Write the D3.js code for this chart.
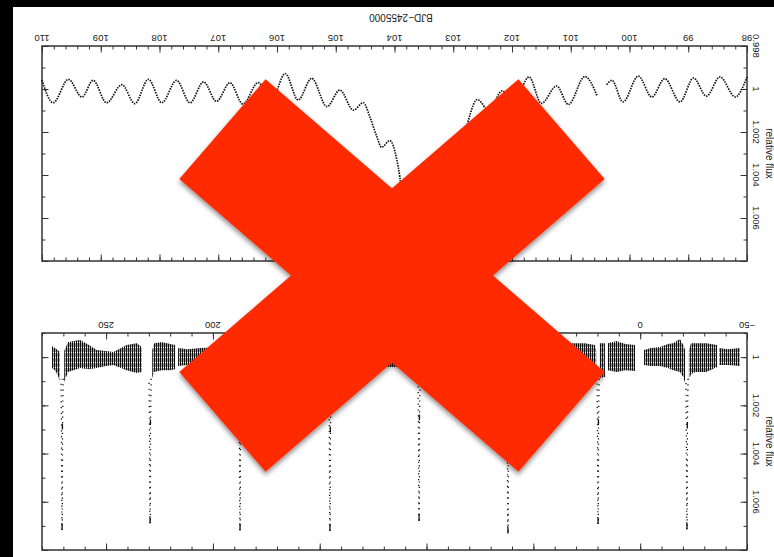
<!DOCTYPE html>
<html>
<head>
<meta charset="utf-8">
<script src="https://cdn.jsdelivr.net/npm/d3@7"></script>
<style>
  html, body { margin: 0; padding: 0; background: #000; }
  svg { display: block; }
  text { font-family: "Liberation Sans", Arial, Helvetica, sans-serif; fill: #222; }
</style>
</head>
<body>
<svg id="chart" width="774" height="557"></svg>
<script>
// ---------------- data ----------------
// Upper panel: short stretch around one transit (BJD-2455000, relative flux)
const topDay = [110.00,109.81,109.55,109.32,109.13,108.90,108.64,108.42,108.19,107.96,107.71,107.48,
  107.25,107.03,106.80,106.58,106.32,106.10,105.86,105.64,105.41,105.15,104.93,104.70,104.53,104.42,
  104.30,104.22,104.08,103.96,103.91,103.84,103.74,103.40,103.02,102.92,102.85,102.74,102.59,102.39,
  102.17,101.97,101.71,101.50,101.24,101.04,100.76,100.55,null,100.39,100.30,100.11,99.85,99.62,
  99.40,99.14,98.91,98.69,98.46,98.20,98.00];
const topFlux = [0.99958,1.00064,0.99955,1.00037,0.99960,1.00064,0.99980,1.00068,0.99955,1.00064,
  0.99960,1.00064,0.99967,1.00057,0.99971,1.00070,0.99970,1.00056,0.99928,1.00051,0.99950,1.00082,
  1.00005,1.00098,1.00064,1.00129,1.00222,1.00271,1.00240,1.00330,1.00408,1.00590,1.00730,1.00750,
  1.00700,1.00330,1.00280,1.00144,1.00049,1.00102,1.00009,1.00063,0.99944,1.00067,0.99986,1.00072,
  0.99942,1.00033,null,0.99980,0.99960,1.00060,0.99940,1.00037,0.99952,1.00060,0.99949,1.00033,
  0.99944,1.00037,0.99944];

// Lower panel: full light curve, envelope of the out-of-transit scatter
const bandDay = [275.3,274.0,272.6,271.6,null,
  269.6,267.8,262.2,258.0,254.4,250.0,246.6,243.0,240.4,235.7,233.3,null,
  228.4,227.5,224.0,220.0,217.7,null,
  216.3,212.0,206.0,196.0,188.2,null,186.4,178.0,166.0,154.0,146.1,null,
  144.3,136.0,124.0,114.0,104.4,null,102.6,94.0,82.0,72.0,62.8,null,
  61.0,52.0,42.0,31.5,26.0,21.2,20.6,null,
  18.9,16.5,null,
  15.1,11.0,7.0,2.4,null,
  -1.8,-5.0,-9.3,-13.0,-15.4,-18.6,-20.2,-21.0,null,
  -22.8,-23.8,-26.0,-31.0,-36.0,null,
  -36.9,-41.0,-46.7];
const bandLow = [0.99954,0.99962,0.99971,0.99979,null,
  0.99975,0.99937,0.99929,0.99950,0.99971,0.99975,0.99979,0.99962,0.99950,0.99942,0.99958,null,
  0.99971,0.99942,0.99937,0.99946,0.99950,null,
  0.99962,0.99967,0.99962,0.99958,0.99967,null,0.99967,0.99950,0.99958,0.99954,0.99971,null,
  0.99971,0.99954,0.99962,0.99958,0.99971,null,0.99971,0.99950,0.99958,0.99954,0.99971,null,
  0.99971,0.99950,0.99958,0.99942,0.99942,0.99950,0.99971,null,
  0.99942,0.99942,null,
  0.99942,0.99933,0.99946,0.99950,null,
  0.99971,0.99962,0.99958,0.99946,0.99942,0.99925,0.99950,0.99971,null,
  0.99971,0.99942,0.99942,0.99942,0.99950,null,
  0.99962,0.99967,0.99962];
const bandHigh = [1.00045,1.00054,1.00074,1.00103,null,
  1.00103,1.00062,1.00045,1.00050,1.00045,1.00037,1.00033,1.00045,1.00054,1.00066,1.00062,null,
  1.00087,1.00062,1.00054,1.00054,1.00050,null,
  1.00037,1.00033,1.00041,1.00045,1.00087,null,1.00087,1.00050,1.00045,1.00050,1.00087,null,
  1.00087,1.00050,1.00041,1.00041,1.00087,null,1.00087,1.00054,1.00045,1.00050,1.00087,null,
  1.00087,1.00050,1.00045,1.00041,1.00041,1.00062,1.00095,null,
  1.00087,1.00083,null,
  1.00054,1.00062,1.00054,1.00058,null,
  1.00033,1.00037,1.00037,1.00045,1.00054,1.00062,1.00083,1.00107,null,
  1.00095,1.00070,1.00062,1.00062,1.00041,null,
  1.00033,1.00033,1.00037];

// Transits in the lower panel
const transitDay      = [270.6, 229.4, 187.3, 145.2, 103.5, 61.9, 19.7, -21.9];
const transitDepth    = [1.00717, 1.00689, 1.00718, 1.00720, 1.00679, 1.00731, 1.00692, 1.00714];
const transitShoulder = [1.00288, 1.00270, 1.00280, 1.00300, 1.00250, 1.00280, 1.00270, 1.00282];

// Axis ticks and labels
const topDayLabels   = d3.range(98, 111, 1);
const topFluxLabels  = [0.998, 1, 1.002, 1.004, 1.006];
const botDayLabels   = [-50, 0, 50, 100, 150, 200, 250];
const botFluxLabels  = [1, 1.002, 1.004, 1.006];
const xTitle = "BJD\u22122455000";
const yTitle = "relative flux";

// ---------------- layout ----------------
const W = 774, H = 557;
const svg = d3.select("#chart");
svg.append("rect").attr("width", W).attr("height", H).attr("fill", "#000");
svg.append("rect").attr("x", 13).attr("y", 7).attr("width", W - 13).attr("height", H - 7).attr("fill", "#fff");

const defs = svg.append("defs");
// dense vertical hatching for the unresolved short-period modulation
const hatch = defs.append("pattern").attr("id", "hatch")
  .attr("patternUnits", "userSpaceOnUse").attr("width", 2).attr("height", 5);
hatch.append("rect").attr("width", 2).attr("height", 5).attr("fill", "#9a9a9a");
hatch.append("rect").attr("x", 0).attr("width", 1).attr("height", 5).attr("fill", "#111");
hatch.append("rect").attr("x", 1).attr("y", 2).attr("width", 1).attr("height", 1).attr("fill", "#fff");
const shadow = defs.append("filter").attr("id", "shadow")
  .attr("x", "-20%").attr("y", "-20%").attr("width", "140%").attr("height", "140%");
shadow.append("feDropShadow").attr("dx", 0).attr("dy", 3).attr("stdDeviation", 2.5)
  .attr("flood-color", "#000").attr("flood-opacity", 0.45);

const L = 42, R = 747;
const xTop = d3.scaleLinear().domain([110, 98]).range([L, R]);
const yTop = d3.scaleLinear().domain([0.998, 1.008]).range([46, 261]);
const xBot = d3.scaleLinear().domain([280, -50]).range([L, R]);
const yBot = d3.scaleLinear().domain([0.999, 1.008]).range([333, 550]);

const fmtFlux = d => String(+d.toFixed(3));
const fmtDay = d => d < 0 ? "\u2212" + Math.abs(d) : String(d);

function framePanel(x, y, xMajor, xMinor, yMajor, yMinor) {
  const g = svg.append("g");
  const [x0, x1] = x.range(), [y0, y1] = y.range();
  const sides = [
    [d3.axisTop, x, `translate(0,${y0})`, xMajor, xMinor],
    [d3.axisBottom, x, `translate(0,${y1})`, xMajor, xMinor],
    [d3.axisLeft, y, `translate(${x0},0)`, yMajor, yMinor],
    [d3.axisRight, y, `translate(${x1},0)`, yMajor, yMinor]
  ];
  sides.forEach(([make, sc, tr, maj, min]) => {
    [[min, 3.5], [maj, 6.5]].forEach(([vals, len]) => {
      g.append("g").attr("transform", tr)
        .call(make(sc).tickValues(vals).tickSize(-len).tickSizeOuter(0).tickFormat(""))
        .call(a => a.select(".domain").remove())
        .selectAll("line").attr("stroke", "#333").attr("stroke-width", 1);
    });
  });
  g.append("rect").attr("x", x0).attr("y", y0).attr("width", x1 - x0).attr("height", y1 - y0)
    .attr("fill", "none").attr("stroke", "#333").attr("stroke-width", 1.5);
  return g;
}

function labels(g, x, y, xLabels, yLabels, fmtX) {
  const [x0, x1] = x.range(), [y0, y1] = y.range();
  g.append("g").selectAll("text").data(xLabels).join("text")
    .attr("transform", d => `translate(${x(d)},${y0 - 8}) rotate(180)`)
    .attr("text-anchor", "middle").attr("dy", "0.35em").attr("font-size", 9.5)
    .text(fmtX);
  g.append("g").selectAll("text").data(yLabels).join("text")
    .attr("transform", d => `translate(${x1 + 9},${y(d)}) rotate(90)`)
    .attr("text-anchor", "middle").attr("dy", "0.35em").attr("font-size", 9.5)
    .text(fmtFlux);
  g.append("text")
    .attr("transform", `translate(${x1 + 22},${(y0 + y1) / 2}) rotate(90)`)
    .attr("text-anchor", "middle").attr("dy", "0.35em").attr("font-size", 10)
    .text(yTitle);
}

// ---------------- upper panel ----------------
const gTop = framePanel(xTop, yTop, xTop.ticks(12), xTop.ticks(60), topFluxLabels.concat([1.008]), yTop.ticks(10));
labels(gTop, xTop, yTop, topDayLabels, topFluxLabels, fmtDay);
gTop.append("text")
  .attr("transform", `translate(401,17) rotate(180)`)
  .attr("text-anchor", "middle").attr("dy", "0.35em").attr("font-size", 10)
  .text(xTitle);

const topPts = topDay.map((d, i) => ({ d, f: topFlux[i] }));
gTop.append("path")
  .datum(topPts)
  .attr("fill", "none").attr("stroke", "#111").attr("stroke-width", 1.7)
  .attr("stroke-dasharray", "1.5 1.1")
  .attr("d", d3.line().defined(p => p.d != null && p.f != null)
    .x(p => xTop(p.d)).y(p => yTop(p.f)).curve(d3.curveMonotoneX));

// ---------------- lower panel ----------------
const gBot = framePanel(xBot, yBot, xBot.ticks(7), xBot.ticks(33), botFluxLabels.concat([1.008]), yBot.ticks(10));
labels(gBot, xBot, yBot, botDayLabels, botFluxLabels, fmtDay);

const bandPts = bandDay.map((d, i) => ({ d, lo: bandLow[i], hi: bandHigh[i] }));
const band = d3.area().defined(p => p.d != null)
  .x(p => xBot(p.d)).y0(p => yBot(p.lo)).y1(p => yBot(p.hi));
gBot.append("path").datum(bandPts).attr("fill", "url(#hatch)").attr("d", band);

const dipLine = d3.line().x(p => xBot(p[0])).y(p => yBot(p[1]));
const transits = transitDay.map((t, i) => ({ t, depth: transitDepth[i], sh: transitShoulder[i] }));
const gDips = gBot.append("g");
gDips.selectAll("path.in").data(transits).join("path").attr("class", "in")
  .attr("fill", "none").attr("stroke", "#111").attr("stroke-width", 1.3)
  .attr("stroke-dasharray", "1.2 4.2")
  .attr("d", p => dipLine([[p.t - 0.5, 1.0009], [p.t - 0.2, p.sh], [p.t - 0.1, p.depth]]));
gDips.selectAll("path.out").data(transits).join("path").attr("class", "out")
  .attr("fill", "none").attr("stroke", "#111").attr("stroke-width", 1.3)
  .attr("stroke-dasharray", "1.2 4.6")
  .attr("d", p => dipLine([[p.t + 0.1, p.depth], [p.t + 0.3, p.sh], [p.t + 0.5, 1.0009]]));
gDips.selectAll("path.sh").data(transits).join("path").attr("class", "sh")
  .attr("fill", "none").attr("stroke", "#111").attr("stroke-width", 1.3)
  .attr("d", p => dipLine([[p.t - 0.15, p.sh - 0.00012], [p.t - 0.15, p.sh + 0.00012]]));
gDips.selectAll("path.bt").data(transits).join("path").attr("class", "bt")
  .attr("fill", "none").attr("stroke", "#111").attr("stroke-width", 1.3)
  .attr("d", p => dipLine([[p.t, p.depth - 0.00025], [p.t, p.depth]]));

// ---------------- overlay cross ----------------
const cx = 392, cy = 275.5, armL = 448, armW = 132, ang = 40.8;
const cross = svg.append("g").attr("filter", "url(#shadow)");
[ang, -ang].forEach(a => {
  cross.append("rect")
    .attr("x", cx - armL / 2).attr("y", cy - armW / 2)
    .attr("width", armL).attr("height", armW)
    .attr("fill", "#ff2a00")
    .attr("transform", `rotate(${a},${cx},${cy})`);
});
</script>
</body>
</html>
